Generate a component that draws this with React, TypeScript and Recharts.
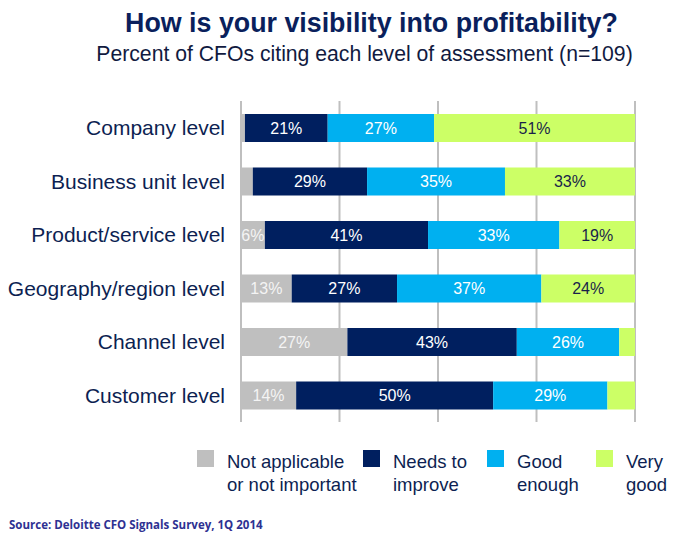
import React from 'react';
import { BarChart, Bar, XAxis, YAxis, CartesianGrid, LabelList } from 'recharts';

const categories = [
  'Company level',
  'Business unit level',
  'Product/service level',
  'Geography/region level',
  'Channel level',
  'Customer level',
];
const notApplicable = [1, 3, 6, 13, 27, 14];
const needsToImprove = [21, 29, 41, 27, 43, 50];
const goodEnough = [27, 35, 33, 37, 26, 29];
const veryGood = [51, 33, 19, 24, 4, 7];
const gridTicks = [0, 0.25, 0.5, 0.75, 1];

const series = [
  { key: 'na', values: notApplicable, color: '#bfbfbf', text: '#f4f4f4', legend: ['Not applicable', 'or not important'] },
  { key: 'improve', values: needsToImprove, color: '#001f5f', text: '#ffffff', legend: ['Needs to', 'improve'] },
  { key: 'good', values: goodEnough, color: '#00b0f0', text: '#ffffff', legend: ['Good', 'enough'] },
  { key: 'vgood', values: veryGood, color: '#ccff66', text: '#1a1f4a', legend: ['Very', 'good'] },
];

// hidden labels: tiny slivers in the source chart carry no text
const hiddenLabels: Record<string, number[]> = { na: [0, 1], vgood: [4, 5] };

const data = categories.map((name, i) => {
  const row: Record<string, string | number> = { name };
  series.forEach((s) => {
    row[s.key] = s.values[i];
  });
  return row;
});

const FONT = '"Liberation Sans", Arial, sans-serif';
const legendX = [197, 363, 487, 596];

const makeLabel = (key: string, fill: string) => (props: any) => {
  const { x, y, width, height, value, index } = props;
  if ((hiddenLabels[key] || []).includes(index)) return null;
  return (
    <text
      x={x + width / 2}
      y={y + height / 2}
      fill={fill}
      fontSize={16}
      fontFamily={FONT}
      textAnchor="middle"
      dominantBaseline="central"
    >
      {value}%
    </text>
  );
};

export default function App() {
  return (
    <div
      style={{
        position: 'absolute',
        left: 0,
        top: 0,
        width: 678,
        height: 548,
        background: '#fff',
        fontFamily: FONT,
      }}
    >
      <div
        style={{
          position: 'absolute',
          top: 8,
          left: 0,
          width: 743,
          textAlign: 'center',
          fontSize: 26.8,
          fontWeight: 700,
          color: '#0a1f5c',
        }}
      >
        How is your visibility into profitability?
      </div>
      <div
        style={{
          position: 'absolute',
          top: 42,
          left: 0,
          width: 729,
          textAlign: 'center',
          fontSize: 21.2,
          color: '#111a3f',
        }}
      >
        Percent of CFOs citing each level of assessment (n=109)
      </div>
      <div style={{ position: 'absolute', top: 0, left: 0 }}>
        <BarChart
          width={678}
          height={548}
          data={data}
          layout="vertical"
          stackOffset="expand"
          barSize={28}
          margin={{ top: 101, right: 43, bottom: 126, left: 0 }}
        >
          <CartesianGrid horizontal={false} stroke="#bfbfbf" strokeWidth={2} />
          <XAxis type="number" hide ticks={gridTicks} domain={[0, 1]} />
          <YAxis
            type="category"
            dataKey="name"
            width={241}
            axisLine={false}
            tickLine={false}
            tickSize={0}
            tickMargin={16}
            tick={{ fill: '#0d1f52', fontSize: 21, fontFamily: FONT }}
          />
          {series.map((s) => (
            <Bar key={s.key} dataKey={s.key} stackId="a" fill={s.color} isAnimationActive={false}>
              <LabelList dataKey={s.key} content={makeLabel(s.key, s.text)} />
            </Bar>
          ))}
        </BarChart>
      </div>
      {series.map((s, i) => (
        <div key={s.key}>
          <div
            style={{
              position: 'absolute',
              left: legendX[i],
              top: 450,
              width: 17,
              height: 17,
              background: s.color,
            }}
          />
          <div
            style={{
              position: 'absolute',
              left: legendX[i] + 30,
              top: 450,
              fontSize: 18.5,
              lineHeight: '23px',
              color: '#0d1f52',
              whiteSpace: 'nowrap',
            }}
          >
            {s.legend[0]}
            <br />
            {s.legend[1]}
          </div>
        </div>
      ))}
      <div
        style={{
          position: 'absolute',
          left: 9,
          top: 517,
          fontSize: 11.5,
          fontWeight: 700,
          color: '#2e3192',
          fontFamily: '"Open Sans", sans-serif',
        }}
      >
        Source: Deloitte CFO Signals Survey, 1Q 2014
      </div>
    </div>
  );
}
